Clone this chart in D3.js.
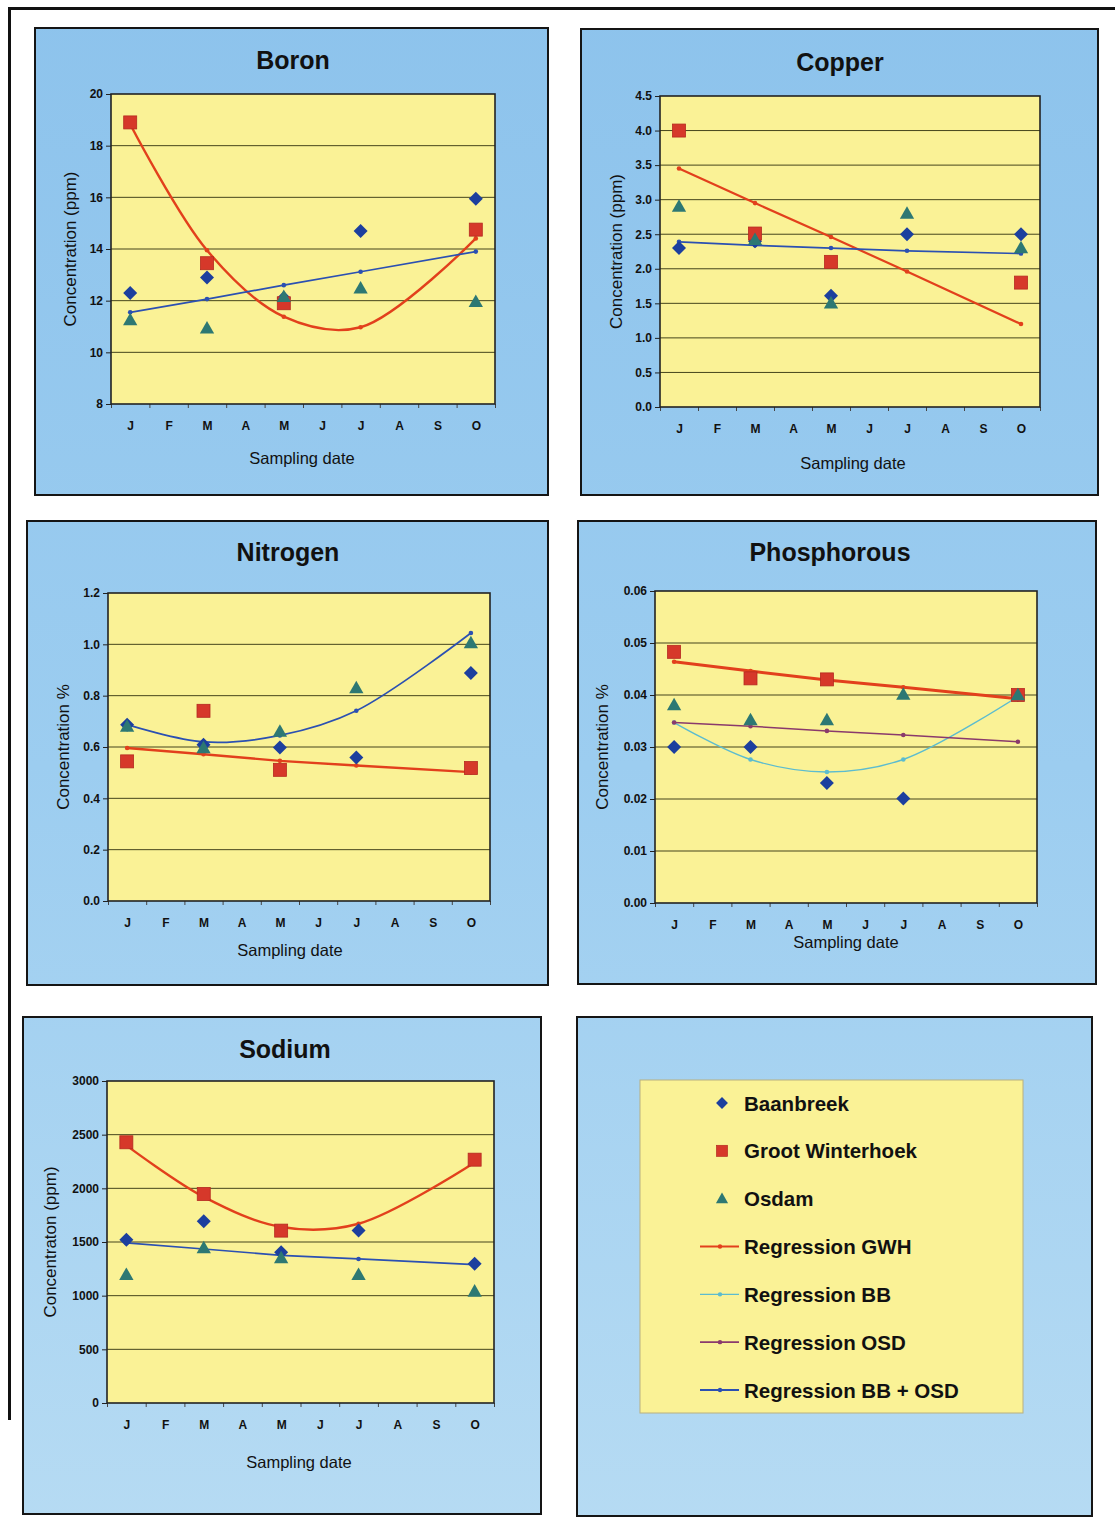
<!DOCTYPE html>
<html><head><meta charset="utf-8">
<script src="https://cdn.jsdelivr.net/npm/d3@7"></script>
<style>
body{margin:0;background:#fff}
svg{display:block}
text{font-family:"Liberation Sans",Arial,Helvetica,sans-serif;fill:#111}
</style>
</head><body>
<svg id="c" width="1115" height="1533"></svg>
<script>
// ---------- DATA ----------
const months = ["J","F","M","A","M","J","J","A","S","O"];
const sampleIdx = [0, 2, 4, 6, 9]; // Jan, Mar, May, Jul, Oct

const boronBB        = [12.3, 12.9, 12.1, 14.7, 15.95];
const boronGWH       = [18.9, 13.45, 11.9, null, 14.75];
const boronOSD       = [11.25, 10.93, 12.15, 12.48, 11.96];
const boronRegGWH    = [18.83, 13.95, 11.38, 10.97, 14.41];
const boronRegBBOSD  = [11.55, 12.06, 12.6, 13.12, 13.9];
const boronTicks     = [8, 10, 12, 14, 16, 18, 20];

const copperBB       = [2.3, 2.4, 1.61, 2.5, 2.5];
const copperGWH      = [4.0, 2.51, 2.1, null, 1.8];
const copperOSD      = [2.9, 2.42, 1.5, 2.8, 2.3];
const copperRegGWH   = [3.45, 2.95, 2.46, 1.96, 1.2];
const copperRegBBOSD = [2.39, 2.34, 2.3, 2.26, 2.22];
const copperTicks    = [0, 0.5, 1, 1.5, 2, 2.5, 3, 3.5, 4, 4.5];

const nitrogenBB       = [0.687, 0.609, 0.598, 0.559, 0.888];
const nitrogenGWH      = [0.544, 0.741, 0.511, null, 0.518];
const nitrogenOSD      = [0.68, 0.596, 0.66, 0.83, 1.005];
const nitrogenRegGWH   = [0.596, 0.572, 0.546, 0.528, 0.502];
const nitrogenRegBBOSD = [0.687, 0.62, 0.645, 0.741, 1.044];
const nitrogenTicks    = [0, 0.2, 0.4, 0.6, 0.8, 1.0, 1.2];

const phosBB       = [0.030, 0.030, 0.0231, 0.0201, 0.040];
const phosGWH      = [0.0483, 0.0432, 0.043, null, 0.040];
const phosOSD      = [0.0381, 0.0352, 0.0352, 0.0401, 0.040];
const phosRegGWH   = [0.0464, 0.0446, 0.0429, 0.0415, 0.0393];
const phosRegBB    = [0.0347, 0.0276, 0.0252, 0.0276, 0.0397];
const phosRegOSD   = [0.0347, 0.034, 0.0331, 0.0323, 0.031];
const phosTicks    = [0, 0.01, 0.02, 0.03, 0.04, 0.05, 0.06];

const sodiumBB       = [1522, 1693, 1404, 1606, 1298];
const sodiumGWH      = [2429, 1947, 1606, null, 2267];
const sodiumOSD      = [1196, 1444, 1351, 1196, 1040];
const sodiumRegGWH   = [2400, 1920, 1640, 1670, 2240];
const sodiumRegBBOSD = [1491, 1435, 1376, 1342, 1289];
const sodiumTicks    = [0, 500, 1000, 1500, 2000, 2500, 3000];

const legendLabels = ["Baanbreek","Groot Winterhoek","Osdam","Regression GWH","Regression BB","Regression OSD","Regression BB + OSD"];

// ---------- STYLE ----------
const C = {
  bb: "#1c3f9e", gwh: "#d6382a", osd: "#2d7873",
  regGWH: "#e2401c", regBB: "#5cbccf", regOSD: "#8a3a6c", regBBOSD: "#2b50b2",
  yellow: "#faf296", grid: "#45451c", frame: "#222"
};

const svg = d3.select("#c");
const defs = svg.append("defs");
const grad = defs.append("linearGradient").attr("id","bg")
  .attr("gradientUnits","userSpaceOnUse").attr("x1",0).attr("y1",0).attr("x2",0).attr("y2",1533);
grad.append("stop").attr("offset",0).attr("stop-color","#8dc3ec");
grad.append("stop").attr("offset",0.5).attr("stop-color","#9ccdf0");
grad.append("stop").attr("offset",1).attr("stop-color","#b6dbf3");

// page border
svg.append("line").attr("x1",9).attr("x2",1115).attr("y1",8.5).attr("y2",8.5).attr("stroke","#111").attr("stroke-width",3);
svg.append("line").attr("x1",9.5).attr("x2",9.5).attr("y1",7).attr("y2",1420).attr("stroke","#111").attr("stroke-width",3);

function diamondPath(s){ return `M0,${-s}L${s},0L0,${s}L${-s},0Z`; }
function trianglePath(s){ const h = s*0.9; return `M0,${-h*0.62}L${s*0.55},${h*0.45}L${-s*0.55},${h*0.45}Z`; }

function drawMarker(g, type, x, y){
  if(type==="bb") g.append("path").attr("d",diamondPath(7)).attr("transform",`translate(${x},${y})`).attr("fill",C.bb);
  else if(type==="gwh") g.append("rect").attr("x",x-6.5).attr("y",y-6.5).attr("width",13).attr("height",13).attr("fill",C.gwh).attr("stroke","#b52a20").attr("stroke-width",0.8);
  else if(type==="osd") g.append("path").attr("d",trianglePath(13)).attr("transform",`translate(${x},${y})`).attr("fill",C.osd);
}

const panels = [
  { title:"Boron", box:[35,28,548,495], plot:[111,94,495,404], ticks:boronTicks, fmt:d3.format("d"),
    ylab:"Concentration (ppm)", titlePos:[293,60], ylabX:70, xlabPos:[302,458],
    pts:{bb:boronBB, gwh:boronGWH, osd:boronOSD},
    regs:[{v:boronRegGWH,c:C.regGWH,w:2.4,curve:true},{v:boronRegBBOSD,c:C.regBBOSD,w:1.7,curve:false}] },
  { title:"Copper", box:[581,29,1098,495], plot:[660,96,1040,407], ticks:copperTicks, fmt:d3.format(".1f"),
    ylab:"Concentration (ppm)", titlePos:[840,62], ylabX:616, xlabPos:[853,463],
    pts:{bb:copperBB, gwh:copperGWH, osd:copperOSD},
    regs:[{v:copperRegGWH,c:C.regGWH,w:2.2,curve:false},{v:copperRegBBOSD,c:C.regBBOSD,w:1.7,curve:false}] },
  { title:"Nitrogen", box:[27,521,548,985], plot:[108,593,490,901], ticks:nitrogenTicks, fmt:d3.format(".1f"),
    ylab:"Concentration %", titlePos:[288,552], ylabX:63, xlabPos:[290,950],
    pts:{bb:nitrogenBB, gwh:nitrogenGWH, osd:nitrogenOSD},
    regs:[{v:nitrogenRegGWH,c:C.regGWH,w:2.4,curve:false},{v:nitrogenRegBBOSD,c:C.regBBOSD,w:1.7,curve:true}] },
  { title:"Phosphorous", box:[578,521,1096,984], plot:[655,591,1037,903], ticks:phosTicks, fmt:d3.format(".2f"),
    ylab:"Concentration %", titlePos:[830,552], ylabX:602, xlabPos:[846,942],
    pts:{bb:phosBB, gwh:phosGWH, osd:phosOSD},
    regs:[{v:phosRegGWH,c:C.regGWH,w:3,curve:false},{v:phosRegBB,c:C.regBB,w:1.4,curve:true},{v:phosRegOSD,c:C.regOSD,w:1.5,curve:false}] },
  { title:"Sodium", box:[23,1017,541,1514], plot:[107,1081,494,1403], ticks:sodiumTicks, fmt:d3.format("d"),
    ylab:"Concentraton (ppm)", titlePos:[285,1049], ylabX:50, xlabPos:[299,1462],
    pts:{bb:sodiumBB, gwh:sodiumGWH, osd:sodiumOSD},
    regs:[{v:sodiumRegGWH,c:C.regGWH,w:2.4,curve:true},{v:sodiumRegBBOSD,c:C.regBBOSD,w:1.7,curve:false}] }
];

panels.forEach(p=>{
  const g = svg.append("g");
  const [bx0,by0,bx1,by1] = p.box;
  g.append("rect").attr("x",bx0).attr("y",by0).attr("width",bx1-bx0).attr("height",by1-by0)
    .attr("fill","url(#bg)").attr("stroke","#151515").attr("stroke-width",2);
  const [px0,py0,px1,py1] = p.plot;
  const x = d3.scaleLinear().domain([-0.5,9.5]).range([px0,px1]);
  const y = d3.scaleLinear().domain([p.ticks[0], p.ticks[p.ticks.length-1]]).range([py1,py0]);
  g.append("rect").attr("x",px0).attr("y",py0).attr("width",px1-px0).attr("height",py1-py0).attr("fill",C.yellow);
  // grid
  g.append("g").selectAll("line").data(p.ticks.slice(1,-1)).join("line")
    .attr("x1",px0).attr("x2",px1).attr("y1",d=>y(d)).attr("y2",d=>y(d))
    .attr("stroke",C.grid).attr("stroke-width",1);
  // y axis
  const ya = g.append("g").attr("transform",`translate(${px0},0)`)
    .call(d3.axisLeft(y).tickValues(p.ticks).tickFormat(p.fmt).tickSize(5).tickPadding(3));
  ya.select(".domain").remove();
  ya.selectAll("line").attr("stroke","#222");
  ya.selectAll("text").attr("font-size",12).attr("font-weight","bold").attr("fill","#111")
    .style("font-family",'"Liberation Sans",Arial,sans-serif');
  // x axis boundary ticks
  const xt = g.append("g").attr("transform",`translate(0,${py1})`)
    .call(d3.axisBottom(x).tickValues(d3.range(-0.5,10,1)).tickFormat("").tickSize(4));
  xt.select(".domain").remove();
  xt.selectAll("line").attr("stroke","#444");
  const xa = g.append("g").attr("transform",`translate(0,${py1})`)
    .call(d3.axisBottom(x).tickValues(d3.range(10)).tickFormat(i=>months[i]).tickSize(0).tickPadding(17));
  xa.select(".domain").remove();
  xa.selectAll("text").attr("font-size",12).attr("font-weight","bold").attr("fill","#111")
    .style("font-family",'"Liberation Sans",Arial,sans-serif');
  // frame
  g.append("rect").attr("x",px0).attr("y",py0).attr("width",px1-px0).attr("height",py1-py0)
    .attr("fill","none").attr("stroke",C.frame).attr("stroke-width",1.6);
  // regression lines
  p.regs.forEach(r=>{
    const pts = r.v.map((v,i)=>[x(sampleIdx[i]), y(v)]);
    const line = d3.line().curve(r.curve ? d3.curveCatmullRom.alpha(0.5) : d3.curveLinear);
    g.append("path").attr("d",line(pts)).attr("fill","none").attr("stroke",r.c).attr("stroke-width",r.w);
    g.selectAll(null).data(pts).join("circle").attr("cx",d=>d[0]).attr("cy",d=>d[1]).attr("r",2.3).attr("fill",r.c);
  });
  // markers
  ["bb","gwh","osd"].forEach(k=>{
    p.pts[k].forEach((v,i)=>{ if(v!=null) drawMarker(g,k,x(sampleIdx[i]),y(v)); });
  });
  // titles
  g.append("text").attr("x",p.titlePos[0]).attr("y",p.titlePos[1]).attr("text-anchor","middle")
    .attr("dominant-baseline","central").attr("font-size",25).attr("font-weight","bold").text(p.title);
  g.append("text").attr("transform",`translate(${p.ylabX},${(py0+py1)/2}) rotate(-90)`).attr("text-anchor","middle")
    .attr("dominant-baseline","central").attr("font-size",17).text(p.ylab);
  g.append("text").attr("x",p.xlabPos[0]).attr("y",p.xlabPos[1]).attr("text-anchor","middle")
    .attr("dominant-baseline","central").attr("font-size",16.5).text("Sampling date");
});

// legend panel
const lg = svg.append("g");
lg.append("rect").attr("x",577).attr("y",1017).attr("width",515).attr("height",499)
  .attr("fill","url(#bg)").attr("stroke","#151515").attr("stroke-width",2);
lg.append("rect").attr("x",640).attr("y",1080).attr("width",383).attr("height",333)
  .attr("fill",C.yellow).attr("stroke","#b8b080").attr("stroke-width",1);
const legendTypes = ["bb","gwh","osd",{c:C.regGWH,w:2.2},{c:C.regBB,w:1.4},{c:C.regOSD,w:1.6},{c:C.regBBOSD,w:2}];
const rowY = d3.scaleLinear().domain([0,6]).range([1103,1390]);
legendLabels.forEach((lab,i)=>{
  const yy = rowY(i);
  const t = legendTypes[i];
  if(typeof t === "string"){
    const s = lg.append("g").attr("transform",`translate(722,${yy}) scale(0.85)`);
    drawMarker(s,t,0,0);
  } else {
    lg.append("line").attr("x1",700).attr("x2",739).attr("y1",yy).attr("y2",yy).attr("stroke",t.c).attr("stroke-width",t.w);
    lg.append("circle").attr("cx",720).attr("cy",yy).attr("r",2.2).attr("fill",t.c);
  }
  lg.append("text").attr("x",744).attr("y",yy).attr("dominant-baseline","central")
    .attr("font-size",20.5).attr("font-weight","bold").text(lab);
});
</script>
</body></html>
